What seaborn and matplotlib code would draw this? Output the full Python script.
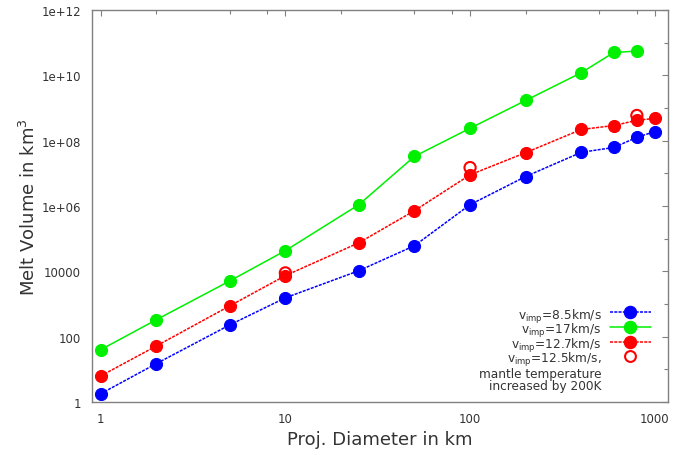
import numpy as np
import pandas as pd
import matplotlib
matplotlib.use("Agg")
import matplotlib.pyplot as plt
import seaborn as sns
from matplotlib.lines import Line2D
from matplotlib.legend_handler import HandlerLine2D
from matplotlib.ticker import FixedLocator, FixedFormatter, NullFormatter

# ---- data ----
diam_blue = [1, 2, 5, 10, 25, 50, 100, 200, 400, 600, 800, 1000]
melt_blue = [1.8, 15, 230, 1550, 10500, 6.1e4, 1.1e6, 8e6, 4.4e7, 6.2e7, 1.26e8, 1.9e8]

diam_green = [1, 2, 5, 10, 25, 50, 100, 200, 400, 600, 800]
melt_green = [40, 330, 5100, 4.3e4, 1.1e6, 3.3e7, 2.4e8, 1.7e9, 1.2e10, 5.0e10, 5.5e10]

diam_red = [1, 2, 5, 10, 25, 50, 100, 200, 400, 600, 800, 1000]
melt_red = [6.3, 52, 880, 7400, 7.5e4, 7.2e5, 9e6, 4.3e7, 2.2e8, 2.9e8, 4.2e8, 4.8e8]

diam_open = [10, 100, 800]
melt_open = [9000, 1.5e7, 5.9e8]

labels = ["v$_{\\mathrm{imp}}$=8.5km/s", "v$_{\\mathrm{imp}}$=17km/s",
          "v$_{\\mathrm{imp}}$=12.7km/s", "v$_{\\mathrm{imp}}$=12.5km/s,",
          "mantle temperature", "increased by 200K"]

x_major = [1, 10, 100, 1000]
x_major_labels = ["1", "10", "100", "1000"]
x_minor = [2, 5, 8, 20, 50, 80, 200, 500, 800]
y_major = [1, 1e2, 1e4, 1e6, 1e8, 1e10, 1e12]
y_major_labels = ["1", "100", "10000", "1e+06", "1e+08", "1e+10", "1e+12"]
y_minor = [1e1, 1e3, 1e5, 1e7, 1e9, 1e11]

sns.set_style("white")
plt.rcParams["font.family"] = ["DejaVu Sans"]

fig = plt.figure(figsize=(6.88, 4.56), dpi=100)
ax = fig.add_axes([0.134, 0.116, 0.837, 0.86])

BLUE, GREEN, RED = "#0000ff", "#00f000", "#ff0000"
ms = 8.7
dash = (0, (2, 0.8))

df_b = pd.DataFrame({"d": diam_blue, "v": melt_blue})
df_g = pd.DataFrame({"d": diam_green, "v": melt_green})
df_r = pd.DataFrame({"d": diam_red, "v": melt_red})
df_o = pd.DataFrame({"d": diam_open, "v": melt_open})

sns.lineplot(data=df_b, x="d", y="v", ax=ax, color=BLUE, lw=1.1, marker="o",
             markersize=ms, markeredgecolor=BLUE, linestyle=dash)
sns.lineplot(data=df_g, x="d", y="v", ax=ax, color=GREEN, lw=1.1, marker="o",
             markersize=ms, markeredgecolor=GREEN)
sns.lineplot(data=df_r, x="d", y="v", ax=ax, color=RED, lw=1.1, marker="o",
             markersize=ms, markeredgecolor=RED, linestyle=dash)
sns.scatterplot(data=df_o, x="d", y="v", ax=ax, marker="o", s=65,
                facecolor="none", edgecolor=RED, linewidth=1.5, zorder=5)

ax.set_xscale("log")
ax.set_yscale("log")
ax.set_xlim(0.9, 1180)
ax.set_ylim(1, 1e12)

ax.xaxis.set_major_locator(FixedLocator(x_major))
ax.xaxis.set_major_formatter(FixedFormatter(x_major_labels))
ax.xaxis.set_minor_locator(FixedLocator(x_minor))
ax.xaxis.set_minor_formatter(NullFormatter())
ax.yaxis.set_major_locator(FixedLocator(y_major))
ax.yaxis.set_major_formatter(FixedFormatter(y_major_labels))
ax.yaxis.set_minor_locator(FixedLocator(y_minor))
ax.yaxis.set_minor_formatter(NullFormatter())

tc = "#333333"
ax.tick_params(axis="both", which="major", direction="in", length=4, width=0.8,
               color="#808080", labelsize=8.5, labelcolor=tc, top=True, right=True)
ax.tick_params(axis="both", which="minor", direction="in", length=3, width=0.8,
               color="#808080", top=True, right=True)
ax.tick_params(axis="x", which="major", pad=7)
ax.tick_params(axis="y", which="major", pad=8)

for s in ax.spines.values():
    s.set_color("#808080")
    s.set_linewidth(1.0)

ax.set_xlabel("Proj. Diameter in km", fontsize=13, color=tc, labelpad=4)
ax.set_ylabel("Melt Volume in km$^3$", fontsize=13, color=tc, labelpad=2)

handles = [
    Line2D([], [], color=BLUE, lw=1.1, ls=dash, marker="o", markersize=ms),
    Line2D([], [], color=GREEN, lw=1.1, marker="o", markersize=ms),
    Line2D([], [], color=RED, lw=1.1, ls=dash, marker="o", markersize=ms),
    Line2D([], [], ls="none", marker="o", markersize=7.8, markerfacecolor="none",
           markeredgecolor=RED, markeredgewidth=1.5),
    Line2D([], [], ls="none"),
    Line2D([], [], ls="none"),
]
leg = ax.legend(handles, labels, loc="lower right", frameon=False, markerfirst=False,
                fontsize=8.7, handleheight=1.7, labelspacing=-0.3, handlelength=3.4,
                handletextpad=0.7, borderaxespad=0.3, bbox_to_anchor=(0.985, 0.0),
                handler_map={Line2D: HandlerLine2D(ypad=0.25)})
for t in leg.get_texts():
    t.set_color(tc)
for col in leg._legend_handle_box.get_children():
    col.align = "right"

fig.savefig("out.png", dpi=100)
